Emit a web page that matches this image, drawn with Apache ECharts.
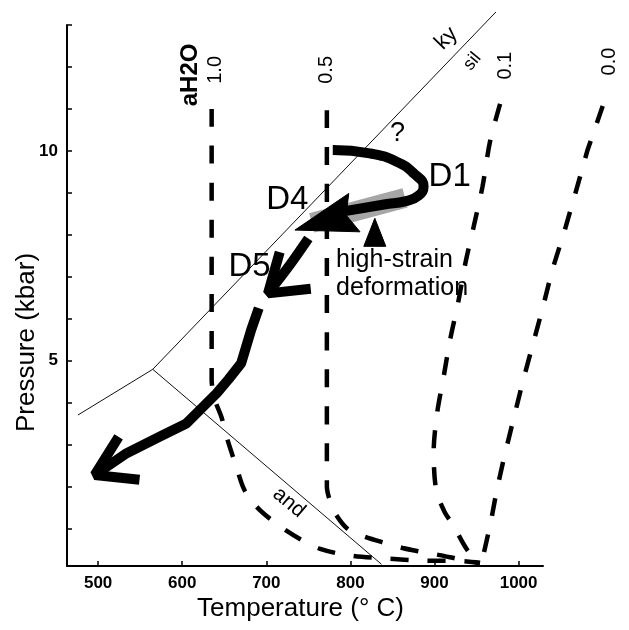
<!DOCTYPE html>
<html>
<head>
<meta charset="utf-8">
<script src="https://cdn.jsdelivr.net/npm/echarts@6/dist/echarts.min.js"></script>
<style>
  html, body { margin: 0; padding: 0; background: #fff; }
  #chart { width: 629px; height: 630px; }
</style>
</head>
<body>
<div id="chart"></div>
<script>
// axis ticks
var tempTicks = [500, 600, 700, 800, 900, 1000];
var presTicks = [1, 2, 3, 4, 5, 6, 7, 8, 9, 10, 11, 12, 13];
var presLabels = [5, 10];

// Al2SiO5 reactions, [T (°C), P (kbar)]
var kyAnd = [[476, 3.70], [565, 4.79]];
var kySil = [[565, 4.79], [973, 13.31]];
var andSil = [[565, 4.79], [837, 0.14]];

// aH2O isopleths
var aH2O_10 = [[635, 11.0], [635, 4.54], [639, 4.06], [647, 3.63], [654, 3.10], [664, 2.49],
  [674, 1.91], [690, 1.48], [714, 1.08], [742, 0.72], [764, 0.51], [796, 0.36],
  [841, 0.28], [887, 0.23], [930, 0.22], [954, 0.17]];
var aH2O_05 = [[772, 10.97], [772, 2.0], [775, 1.70], [783, 1.32], [798, 0.96], [817, 0.80],
  [841, 0.65], [862, 0.53], [884, 0.44], [906, 0.36], [930, 0.26], [954, 0.17]];
var aH2O_01 = [[978, 11.12], [966, 10.22], [957, 9.14], [947, 8.23], [937, 7.35], [928, 6.37],
  [919, 5.54], [911, 4.63], [903, 3.73], [899, 2.82], [902, 1.91], [912, 1.39],
  [922, 1.08], [939, 0.48], [954, 0.17]];
var aH2O_00 = [[1100, 11.07], [1082, 10.02], [1067, 8.95], [1054, 8.05], [1040, 7.16],
  [1029, 6.28], [1017, 5.39], [1005, 4.50], [994, 3.61], [983, 2.71], [974, 1.91],
  [967, 1.15], [956, 0.17]];

// P-T path
var pathD1 = [[779, 10.02], [823, 9.94], [855, 9.74], [876, 9.45], [887, 9.15], [881, 8.93],
  [866, 8.80], [840, 8.72], [790, 8.55]];
var strainBand = [[754, 8.28], [865, 8.88]];
var pathD5 = [[750, 7.91], [728, 7.28], [702, 6.60]];
var pathLate = [[691, 6.25], [682, 5.73], [670, 4.93], [655, 4.55], [641, 4.22], [621, 3.82],
  [605, 3.50], [573, 3.18], [534, 2.79], [496, 2.27]];
// arrow heads: [tipT, tipP, backT, backP]
var heads = [[734, 8.11, 802, 8.51], [702, 6.60, 738, 7.21], [496, 2.27, 539, 2.69], [829, 8.39, 829, 7.64]];

var headStyle = [
  { kind: 'fill', len: 62, half: 20, notch: 0.86 },
  { kind: 'open', len: 43, angle: 34 },
  { kind: 'open', len: 45, angle: 32 },
  { kind: 'fill', len: 28, half: 11, notch: 1 }
];

var FONT = '"Liberation Sans", Arial, sans-serif';

// text notes placed at [T, P]
var notes = [
  { text: 'D1', at: [918, 9.38], size: 33 },
  { text: 'D4', at: [725, 8.83], size: 33 },
  { text: 'D5', at: [680, 7.23], size: 33 },
  { text: '?', at: [856, 10.42], size: 27 },
  { text: 'aH2O', at: [610, 11.81], size: 24, bold: true, rotate: 90 },
  { text: '1.0', at: [639, 11.93], size: 20, rotate: 90 },
  { text: '0.5', at: [772, 11.93], size: 20, rotate: 90 },
  { text: '0.1', at: [984, 12.03], size: 20, rotate: 90 },
  { text: '0.0', at: [1108, 12.13], size: 20, rotate: 90 },
  { text: 'ky', at: [914, 12.68], size: 22, rotate: 46 },
  { text: 'sil', at: [945, 12.13], size: 18, rotate: 50 },
  { text: 'and', at: [727, 1.61], size: 21, rotate: -40 },
  { text: 'high-strain\ndeformation', at: [783, 7.07], size: 25, left: true }
];

function lineSeries(data, width, type, color, smooth) {
  return {
    type: 'line', data: data, showSymbol: false, symbol: 'none', clip: false,
    smooth: smooth || false, silent: true,
    lineStyle: { color: color || '#000', width: width, type: type || 'solid', cap: 'butt' }
  };
}

function renderHead(params, api) {
  var s = headStyle[params.dataIndex];
  var tip = api.coord([api.value(0), api.value(1)]);
  var back = api.coord([api.value(2), api.value(3)]);
  var dx = back[0] - tip[0], dy = back[1] - tip[1];
  var d = Math.sqrt(dx * dx + dy * dy);
  var ux = dx / d, uy = dy / d, nx = -uy, ny = ux;
  if (s.kind === 'fill') {
    var bx = tip[0] + ux * s.len, by = tip[1] + uy * s.len;
    return {
      type: 'polygon',
      shape: { points: [tip, [bx + nx * s.half, by + ny * s.half],
        [tip[0] + ux * s.len * s.notch, tip[1] + uy * s.len * s.notch],
        [bx - nx * s.half, by - ny * s.half]] },
      style: { fill: '#000', stroke: '#000', lineWidth: 1 }
    };
  }
  var a = s.angle * Math.PI / 180, c = Math.cos(a), sn = Math.sin(a);
  var a1 = [tip[0] + s.len * (ux * c - uy * sn), tip[1] + s.len * (uy * c + ux * sn)];
  var a2 = [tip[0] + s.len * (ux * c + uy * sn), tip[1] + s.len * (uy * c - ux * sn)];
  return {
    type: 'polyline',
    shape: { points: [a1, tip, a2] },
    style: { stroke: '#000', lineWidth: 10, fill: null, lineJoin: 'bevel' }
  };
}

function renderNote(params, api) {
  var n = notes[params.dataIndex];
  var p = api.coord([api.value(0), api.value(1)]);
  return {
    type: 'text', x: p[0], y: p[1], rotation: (n.rotate || 0) * Math.PI / 180,
    style: {
      text: n.text, fill: '#000',
      font: (n.bold ? 'bold ' : '') + n.size + 'px ' + FONT,
      align: n.left ? 'left' : 'center', verticalAlign: 'middle',
      lineHeight: n.left ? 28 : n.size
    }
  };
}

var chart = echarts.init(document.getElementById('chart'));

var dash = [18, 19];
var option = {
  animation: false,
  backgroundColor: '#fff',
  grid: { left: 67, right: 86, top: 25, bottom: 64, outerBoundsMode: 'none', containLabel: false },
  xAxis: {
    type: 'value', min: 463, max: 1029,
    name: 'Temperature (° C)', nameLocation: 'middle', nameGap: 30, nameMoveOverlap: false,
    nameTextStyle: { fontFamily: FONT, fontSize: 26, color: '#000', padding: [0, 9, 0, 0] },
    axisLine: { show: true, lineStyle: { color: '#000', width: 2 } },
    axisTick: { show: true, inside: true, length: 5, customValues: tempTicks, lineStyle: { color: '#000', width: 1.5 } },
    axisLabel: {
      customValues: tempTicks, margin: 9, fontFamily: FONT, fontSize: 17, fontWeight: 'bold', color: '#000',
      formatter: function (v) { return String(v); }
    },
    splitLine: { show: false }
  },
  yAxis: {
    type: 'value', min: 0.1, max: 13,
    name: 'Pressure (kbar)', nameLocation: 'middle', nameGap: 27, nameRotate: 90, nameMoveOverlap: false,
    nameTextStyle: { fontFamily: FONT, fontSize: 26, color: '#000', padding: [0, 94, 0, 0] },
    axisLine: { show: true, lineStyle: { color: '#000', width: 2 } },
    axisTick: { show: true, inside: true, length: 5, customValues: presTicks, lineStyle: { color: '#000', width: 1.5 } },
    axisLabel: {
      customValues: presLabels, margin: 9, fontFamily: FONT, fontSize: 17, fontWeight: 'bold', color: '#000',
      formatter: function (v) { return String(v); }
    },
    splitLine: { show: false }
  },
  series: [
    lineSeries(kyAnd, 1, 'solid', '#111'),
    lineSeries(kySil, 1, 'solid', '#111'),
    lineSeries(andSil, 1, 'solid', '#111'),
    lineSeries(aH2O_10, 4.5, dash, '#000', 0.3),
    lineSeries(aH2O_05, 4.5, dash, '#000', 0.3),
    lineSeries(aH2O_01, 4.5, dash, '#000', 0.3),
    {
      // runs past the right end of the temperature axis
      type: 'lines', coordinateSystem: 'cartesian2d', polyline: true, clip: false, silent: true,
      data: [{ coords: aH2O_00 }],
      lineStyle: { color: '#000', width: 4.5, type: dash, opacity: 1, curveness: 0 },
      effect: { show: false }
    },
    lineSeries(strainBand, 20, 'solid', '#a6a6a6'),
    lineSeries(pathD1, 10, 'solid', '#000', 0.5),
    lineSeries(pathD5, 10, 'solid', '#000', 0.3),
    lineSeries(pathLate, 10, 'solid', '#000'),
    {
      type: 'custom', renderItem: renderHead, data: heads, clip: false, silent: true, z: 5,
      encode: { x: [0, 2], y: [1, 3] }
    },
    {
      type: 'custom', renderItem: renderNote, clip: false, silent: true, z: 6,
      data: notes.map(function (n) { return n.at; }),
      encode: { x: 0, y: 1 }
    }
  ]
};
chart.setOption(option);
</script>
</body>
</html>
